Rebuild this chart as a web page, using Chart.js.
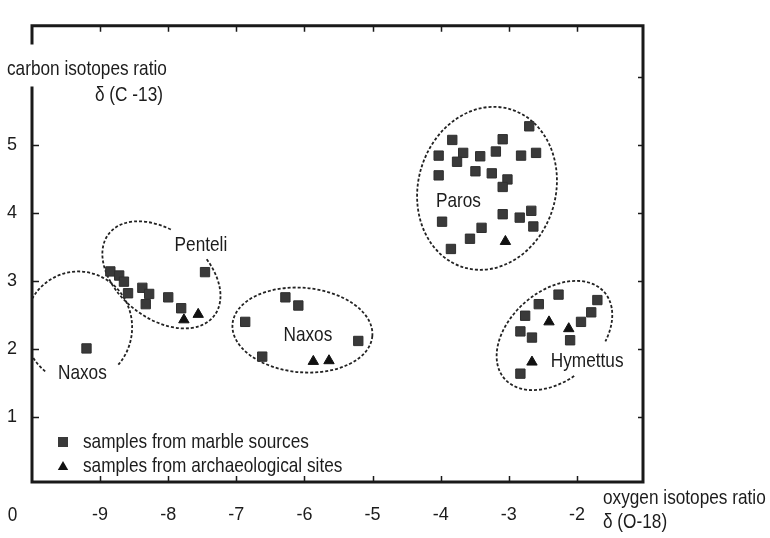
<!DOCTYPE html>
<html>
<head>
<meta charset="utf-8">
<script src="https://cdn.jsdelivr.net/npm/chart.js@4/dist/chart.umd.min.js"></script>
<style>
html,body{margin:0;padding:0;background:#fff;}
#wrap{width:770px;height:538px;position:relative;}
</style>
</head>
<body>
<div id="wrap"><canvas id="c" width="770" height="538"></canvas></div>
<script>
// ---------------- data ----------------
const xTickValues = [-9, -8, -7, -6, -5, -4, -3, -2];
const yTickValues = [1, 2, 3, 4, 5];
const yRightTickValues = [1, 2, 3, 4, 5, 6];

// samples from marble sources (squares): delta O-18, delta C-13
const marbleO18 = [
  -9.20,
  -8.85, -8.72, -8.65, -8.59, -8.38, -8.28, -8.33, -8.00, -7.81, -7.46,
  -6.28, -6.09, -6.87, -6.62, -5.21,
  -2.70, -3.83, -3.09, -4.03, -3.67, -3.76, -3.42, -3.19, -2.82, -2.60,
  -4.03, -3.49, -3.25, -3.02, -3.09, -3.98, -3.09, -2.84, -2.67, -2.64,
  -3.40, -3.57, -3.85,
  -2.27, -2.56, -1.70, -1.79, -1.94, -2.76, -2.83, -2.66, -2.10, -2.83
];
const marbleC13 = [
  2.01,
  3.14, 3.08, 2.99, 2.82, 2.90, 2.81, 2.66, 2.76, 2.60, 3.13,
  2.76, 2.64, 2.40, 1.89, 2.12,
  5.27, 5.07, 5.08, 4.84, 4.88, 4.75, 4.83, 4.90, 4.84, 4.88,
  4.55, 4.61, 4.58, 4.49, 4.38, 3.87, 3.98, 3.93, 4.03, 3.80,
  3.78, 3.62, 3.47,
  2.80, 2.66, 2.72, 2.54, 2.40, 2.49, 2.26, 2.17, 2.13, 1.64
];
// samples from archaeological sites (triangles)
const archO18 = [-7.77, -7.56, -5.87, -5.64, -3.05, -2.41, -2.12, -2.66];
const archC13 = [ 2.43,  2.51,  1.82,  1.83,  3.58,  2.40,  2.30,  1.81];

// quarry group labels
const groupNames  = ['Naxos', 'Penteli', 'Naxos', 'Paros', 'Hymettus'];
const groupLabelO18 = [-9.26, -7.52, -5.95, -3.74, -1.85];
const groupLabelC13 = [ 1.64,  3.52,  2.21,  4.17,  1.82];

const seriesNames = ['samples from marble sources', 'samples from archaeological sites'];
const xTitle = ['oxygen isotopes ratio', 'δ (O-18)'];
const yTitle = ['carbon isotopes ratio', 'δ (C -13)'];

// dashed group outlines (centre in data units, semi-axes in axis units, rotation deg, arc from/to deg)
const ELLIPSES = [
  {cx: -9.32, cy: 2.32, a: 0.79, b: 0.82, rot: 0,     from: 128, to: 402},
  {cx: -8.10, cy: 3.09, a: 0.98, b: 0.64, rot: 38,    from: -67, to: 253.5},
  {cx: -6.03, cy: 2.28, a: 1.03, b: 0.62, rot: 5,     from: 0,   to: 360},
  {cx: -3.32, cy: 4.36, a: 1.01, b: 1.21, rot: 16,    from: 0,   to: 360},
  {cx: -2.33, cy: 2.20, a: 0.97, b: 0.65, rot: -40.7, from: 100, to: 418.3}
];

// ---------------- fonts ----------------
function hasFont(name) {
  const ctx = document.createElement('canvas').getContext('2d');
  const s = 'samples from marble 0123456789';
  ctx.font = '40px monospace'; const a = ctx.measureText(s).width;
  ctx.font = '40px "' + name + '", monospace'; const b = ctx.measureText(s).width;
  ctx.font = '40px serif'; const c = ctx.measureText(s).width;
  ctx.font = '40px "' + name + '", serif'; const d = ctx.measureText(s).width;
  return Math.abs(a - b) > 0.5 || Math.abs(c - d) > 0.5;
}
let FAMILY, TEXT_SIZE, HSCALE, TICK_SIZE;
if (hasFont('Liberation Sans Narrow')) {
  FAMILY = '"Liberation Sans Narrow", "Liberation Sans", Arial, sans-serif';
  TEXT_SIZE = 21; HSCALE = 1; TICK_SIZE = 21;
} else {
  FAMILY = '"Liberation Sans", Arial, sans-serif';
  TEXT_SIZE = 21; HSCALE = 0.82; TICK_SIZE = 18;
}
const TXT = '#1c1c1c';
const AXIS = '#1a1a1a';

const mk = (xs, ys) => xs.map((x, i) => ({x: x, y: ys[i]}));

function drawText(ctx, str, x, y, align) {
  ctx.save();
  ctx.font = TEXT_SIZE + 'px ' + FAMILY;
  ctx.fillStyle = TXT;
  ctx.textBaseline = 'middle';
  ctx.textAlign = align || 'left';
  ctx.translate(x, y);
  ctx.scale(HSCALE, 1);
  ctx.fillText(str, 0, 0);
  ctx.restore();
}

const decor = {
  id: 'decor',
  beforeDatasetsDraw(chart) {
    const {ctx, chartArea: ca, scales: {x, y}} = chart;
    const ux = Math.abs(x.getPixelForValue(1) - x.getPixelForValue(0));
    const uy = Math.abs(y.getPixelForValue(1) - y.getPixelForValue(0));
    ctx.save();
    ctx.beginPath();
    ctx.rect(ca.left, ca.top, ca.right - ca.left, ca.bottom - ca.top);
    ctx.clip();
    ctx.strokeStyle = '#222';
    ctx.lineWidth = 1.8;
    ctx.setLineDash([3, 2]);
    ELLIPSES.forEach(e => {
      ctx.beginPath();
      ctx.ellipse(x.getPixelForValue(e.cx), y.getPixelForValue(e.cy), e.a * ux, e.b * uy,
        e.rot * Math.PI / 180, e.from * Math.PI / 180, e.to * Math.PI / 180, false);
      ctx.stroke();
    });
    ctx.restore();

    // group labels
    groupNames.forEach((n, i) => {
      drawText(ctx, n, x.getPixelForValue(groupLabelO18[i]), y.getPixelForValue(groupLabelC13[i]), 'center');
    });
  },
  afterDraw(chart) {
    const {ctx, chartArea: ca, scales: {x, y}} = chart;
    ctx.save();
    ctx.strokeStyle = AXIS;
    ctx.lineWidth = 3;
    ctx.lineCap = 'square';
    ctx.beginPath();
    // top, right, bottom
    ctx.moveTo(ca.left, ca.top); ctx.lineTo(ca.right, ca.top);
    ctx.lineTo(ca.right, ca.bottom); ctx.lineTo(ca.left, ca.bottom);
    // left axis with gap for title
    ctx.lineTo(ca.left, 88);
    ctx.moveTo(ca.left, 43); ctx.lineTo(ca.left, ca.top);
    ctx.stroke();

    // inward tick marks
    ctx.lineWidth = 1.5;
    ctx.lineCap = 'butt';
    ctx.beginPath();
    xTickValues.forEach(v => {
      const px = Math.round(x.getPixelForValue(v)) + 0.5;
      ctx.moveTo(px, ca.top); ctx.lineTo(px, ca.top + 6);
      ctx.moveTo(px, ca.bottom); ctx.lineTo(px, ca.bottom - 6);
    });
    yTickValues.forEach(v => {
      const py = Math.round(y.getPixelForValue(v)) + 0.5;
      ctx.moveTo(ca.left, py); ctx.lineTo(ca.left + 7, py);
    });
    yRightTickValues.forEach(v => {
      const py = Math.round(y.getPixelForValue(v)) + 0.5;
      ctx.moveTo(ca.right, py); ctx.lineTo(ca.right - 5, py);
    });
    ctx.stroke();
    ctx.restore();

    // axis titles
    drawText(ctx, yTitle[0], 7, 69, 'left');
    drawText(ctx, yTitle[1], 95, 95, 'left');
    drawText(ctx, xTitle[0], 603, 498, 'left');
    drawText(ctx, xTitle[1], 603, 522, 'left');
    // origin label
    drawText(ctx, '0', 12.5, 515, 'center');

    // legend
    ctx.save();
    ctx.fillStyle = '#3a3a3a';
    ctx.fillRect(58, 437, 10, 10);
    ctx.fillStyle = '#111';
    ctx.beginPath();
    ctx.moveTo(63, 461); ctx.lineTo(68.2, 470); ctx.lineTo(57.8, 470); ctx.closePath();
    ctx.fill();
    ctx.restore();
    drawText(ctx, seriesNames[0], 83, 442, 'left');
    drawText(ctx, seriesNames[1], 83, 466, 'left');
  }
};

const tickFont = {family: FAMILY, size: TICK_SIZE};

new Chart(document.getElementById('c'), {
  type: 'scatter',
  data: {
    datasets: [
      {
        label: seriesNames[0],
        data: mk(marbleO18, marbleC13),
        pointStyle: 'rect',
        pointRadius: 6.6,
        pointHoverRadius: 6.6,
        backgroundColor: '#3a3a3a',
        borderColor: '#2e2e2e',
        borderWidth: 1
      },
      {
        label: seriesNames[1],
        data: mk(archO18, archC13),
        pointStyle: 'triangle',
        pointRadius: 6,
        pointHoverRadius: 6,
        backgroundColor: '#111',
        borderColor: '#111',
        borderWidth: 1
      }
    ]
  },
  options: {
    responsive: false,
    devicePixelRatio: 1,
    animation: false,
    events: [],
    layout: {padding: {left: 0, top: 10, right: 127, bottom: 0}},
    plugins: {legend: {display: false}, tooltip: {enabled: false}},
    scales: {
      x: {
        type: 'linear',
        position: 'bottom',
        min: -10,
        max: -1.03,
        afterBuildTicks: s => { s.ticks = xTickValues.map(v => ({value: v})); },
        afterFit: s => { s.height = 56; },
        grid: {display: false, drawTicks: false},
        border: {display: false},
        ticks: {
          autoSkip: false,
          maxRotation: 0,
          color: TXT,
          font: tickFont,
          padding: TICK_SIZE === 21 ? 20 : 22,
          callback: v => String(v)
        }
      },
      y: {
        type: 'linear',
        position: 'left',
        min: 0.05,
        max: 6.745,
        afterBuildTicks: s => { s.ticks = yTickValues.map(v => ({value: v})); },
        afterFit: s => { s.width = 32; },
        grid: {display: false, drawTicks: false},
        border: {display: false},
        ticks: {
          autoSkip: false,
          color: TXT,
          font: tickFont,
          padding: 15,
          callback: v => String(v)
        }
      }
    }
  },
  plugins: [decor]
});
</script>
</body>
</html>
